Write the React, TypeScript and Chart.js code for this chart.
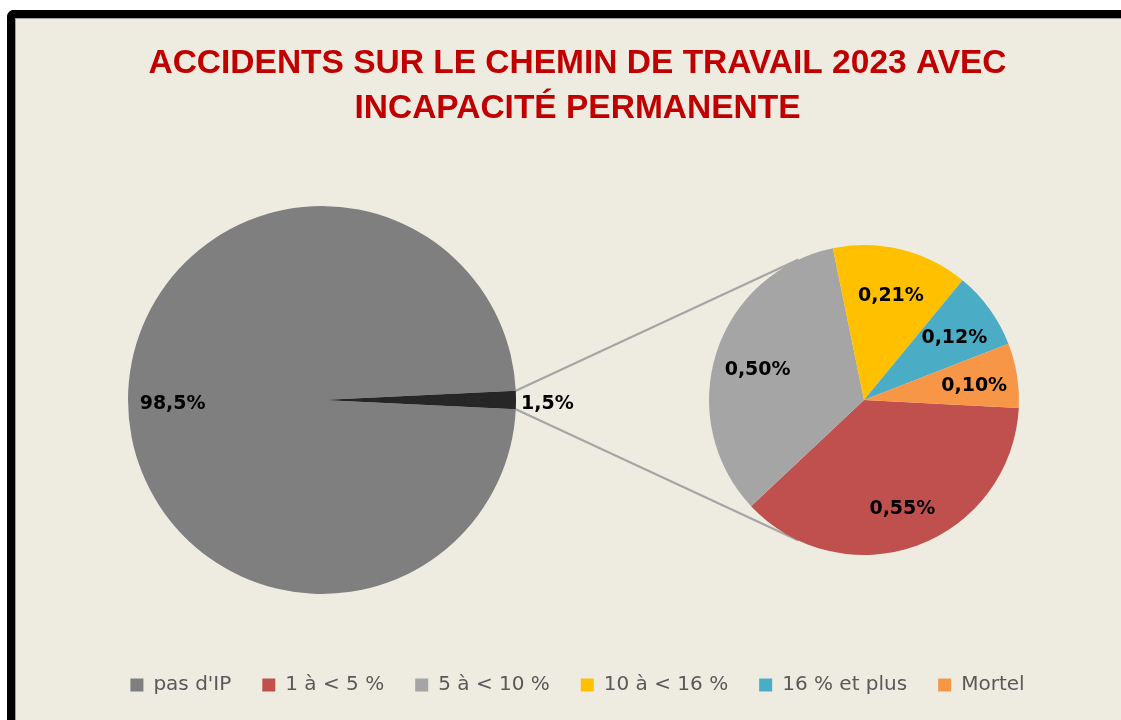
import React, { useEffect, useRef } from 'react';
import { Chart, registerables } from 'chart.js';

Chart.register(...registerables);

// ---- Data ----
const titleLines = ['ACCIDENTS SUR LE CHEMIN DE TRAVAIL 2023 AVEC', 'INCAPACITÉ PERMANENTE'];

const mainLabels = ["pas d'IP", 'avec IP'];
const mainValues = [98.5, 1.5];
const mainColors = ['#7F7F7F', '#262626'];

const ipLabels = ['1 à < 5 %', '5 à < 10 %', '10 à < 16 %', '16 % et plus', 'Mortel'];
const ipValues = [0.55, 0.5, 0.21, 0.12, 0.1];
const ipColors = ['#C0504D', '#A5A5A5', '#FFC000', '#4BACC6', '#F79646'];

const legendLabels = [mainLabels[0], ...ipLabels];
const legendColors = [mainColors[0], ...ipColors];

// ---- Layout constants ----
const W = 1125;
const H = 702;

const fmt = (v: number, d: number) => v.toFixed(d).replace('.', ',') + '%';

function labelPlugin(decimals: number, factor: number, outsideIdx: number) {
  return {
    id: 'sliceLabels',
    afterDatasetsDraw(chart: any) {
      const ctx = chart.ctx;
      const meta = chart.getDatasetMeta(0);
      const data = chart.data.datasets[0].data as number[];
      ctx.save();
      ctx.font = 'bold 19px "DejaVu Sans"';
      ctx.fillStyle = '#000000';
      ctx.textBaseline = 'middle';
      meta.data.forEach((el: any, i: number) => {
        const p = el.getProps(['x', 'y', 'startAngle', 'endAngle', 'outerRadius'], true);
        const mid = (p.startAngle + p.endAngle) / 2;
        const text = fmt(data[i], decimals);
        if (i === outsideIdx) {
          ctx.textAlign = 'left';
          const r = p.outerRadius + 5;
          ctx.fillText(text, p.x + Math.cos(mid) * r, p.y + Math.sin(mid) * r + 4);
        } else {
          ctx.textAlign = 'center';
          const r = p.outerRadius * factor;
          ctx.fillText(text, p.x + Math.cos(mid) * r, p.y + Math.sin(mid) * r + 4);
        }
      });
      ctx.restore();
    },
  };
}

export default function App() {
  const bgRef = useRef<HTMLCanvasElement>(null);
  const aRef = useRef<HTMLCanvasElement>(null);
  const bRef = useRef<HTMLCanvasElement>(null);

  useEffect(() => {
    const mainSum = mainValues.reduce((s, v) => s + v, 0);
    const chartA = new Chart(aRef.current as HTMLCanvasElement, {
      type: 'pie',
      data: {
        labels: mainLabels,
        datasets: [
          {
            data: mainValues,
            backgroundColor: mainColors,
            borderWidth: 0,
            hoverOffset: 0,
            radius: 194,
          } as any,
        ],
      },
      options: {
        responsive: false,
        animation: false,
        events: [],
        rotation: 90 + (mainValues[1] / mainSum) * 180,
        layout: { padding: { left: 113, right: W - 501, top: 188, bottom: H - 576 } },
        plugins: { legend: { display: false }, title: { display: false }, tooltip: { enabled: false } },
      } as any,
      plugins: [labelPlugin(1, 0.77, 1)],
    });

    const chartB = new Chart(bRef.current as HTMLCanvasElement, {
      type: 'pie',
      data: {
        labels: ipLabels,
        datasets: [
          {
            data: ipValues,
            backgroundColor: ipColors,
            borderWidth: 0,
            hoverOffset: 0,
            radius: 155,
          } as any,
        ],
      },
      options: {
        responsive: false,
        animation: false,
        events: [],
        rotation: 93,
        layout: { padding: { left: 694, right: W - 1004, top: 227, bottom: H - 537 } },
        plugins: { legend: { display: false }, title: { display: false }, tooltip: { enabled: false } },
      } as any,
      plugins: [labelPlugin(2, 0.72, -1)],
    });

    const connectorPlugin = {
      id: 'connectors',
      afterDraw(chart: any) {
        const a: any = chartA.getDatasetMeta(0).data[1];
        const b: any = chartB.getDatasetMeta(0).data[0];
        if (!a || !b) return;
        const pa = a.getProps(['x', 'y', 'startAngle', 'endAngle', 'outerRadius'], true);
        const pb = b.getProps(['x', 'y', 'outerRadius'], true);
        const ang = (115 * Math.PI) / 180;
        const ctx = chart.ctx;
        ctx.save();
        ctx.strokeStyle = '#A5A5A5';
        ctx.lineWidth = 2.2;
        ctx.beginPath();
        ctx.moveTo(pa.x + pa.outerRadius * Math.cos(pa.startAngle), pa.y + pa.outerRadius * Math.sin(pa.startAngle));
        ctx.lineTo(pb.x + pb.outerRadius * Math.cos(-ang), pb.y + pb.outerRadius * Math.sin(-ang));
        ctx.moveTo(pa.x + pa.outerRadius * Math.cos(pa.endAngle), pa.y + pa.outerRadius * Math.sin(pa.endAngle));
        ctx.lineTo(pb.x + pb.outerRadius * Math.cos(ang), pb.y + pb.outerRadius * Math.sin(ang));
        ctx.stroke();
        ctx.restore();
      },
    };

    const bg = new Chart(bgRef.current as HTMLCanvasElement, {
      type: 'pie',
      data: { labels: legendLabels, datasets: [] },
      options: {
        responsive: false,
        animation: false,
        events: [],
        layout: { padding: { left: 0, right: 0, top: 0, bottom: 15 } },
        plugins: {
          title: {
            display: true,
            text: titleLines,
            color: '#C00000',
            font: { family: '"Liberation Sans", Arial, sans-serif', weight: 'bold', size: 33.5, lineHeight: 45 / 33.5 },
            padding: { top: 23, bottom: 0 },
          },
          legend: {
            display: true,
            position: 'bottom',
            labels: {
              boxWidth: 13,
              boxHeight: 13,
              padding: 31,
              color: '#595959',
              font: { family: '"DejaVu Sans", sans-serif', size: 20 },
              generateLabels: () =>
                legendLabels.map((t, i) => ({
                  text: t,
                  fillStyle: legendColors[i],
                  strokeStyle: legendColors[i],
                  lineWidth: 0,
                  hidden: false,
                  index: i,
                  fontColor: '#595959',
                })),
            },
          },
          tooltip: { enabled: false },
        },
      } as any,
      plugins: [connectorPlugin],
    });

    return () => {
      bg.destroy();
      chartA.destroy();
      chartB.destroy();
    };
  }, []);

  const canvasStyle: React.CSSProperties = { position: 'absolute', left: 15, top: 18, width: W, height: H };

  return (
    <div style={{ position: 'fixed', left: 0, top: 0, width: 1121, height: 720, overflow: 'hidden', background: '#FFFFFF' }}>
      <div
        style={{
          position: 'absolute',
          left: 7,
          top: 10,
          width: 1160,
          height: 740,
          borderLeft: '8px solid #000000',
          borderTop: '8px solid #000000',
          borderTopLeftRadius: 7,
          background: '#EEECE1',
          boxShadow: 'inset 1px 1px 0 #A0A0A0',
          boxSizing: 'border-box',
        }}
      />
      <canvas ref={bgRef} width={W} height={H} style={canvasStyle} />
      <canvas ref={aRef} width={W} height={H} style={canvasStyle} />
      <canvas ref={bRef} width={W} height={H} style={canvasStyle} />
    </div>
  );
}
